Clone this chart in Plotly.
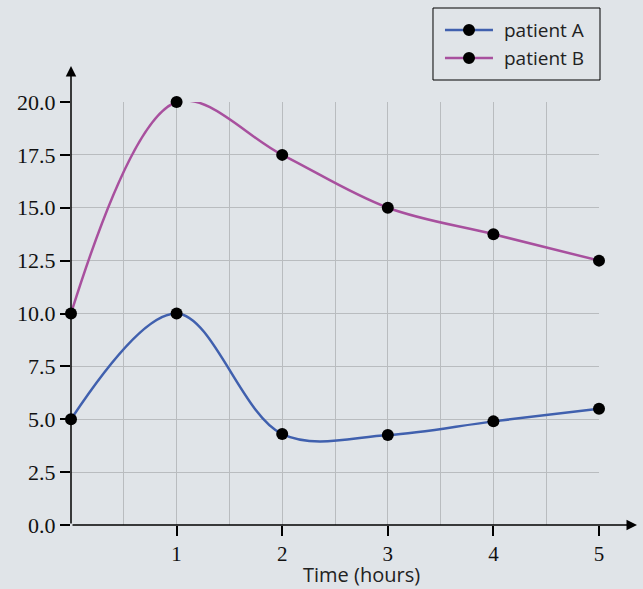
import plotly.graph_objects as go

# Time points (hours) and measured values for each patient
hours = [0, 1, 2, 3, 4, 5]
patient_a = [5.0, 10.0, 4.3, 4.25, 4.9, 5.5]
patient_b = [10.0, 20.0, 17.5, 15.0, 13.75, 12.5]

x_ticks = [1, 2, 3, 4, 5]
y_ticks = [0, 2.5, 5, 7.5, 10, 12.5, 15, 17.5, 20]
y_labels = [f"{v:.1f}" for v in y_ticks]

BG = "#e0e4e8"
GRID = "#b9bcbf"
SERIF = "Liberation Serif"
SANS = "Open Sans"

series = [
    ("patient A", patient_a, "#4060ae"),
    ("patient B", patient_b, "#a8509e"),
]

fig = go.Figure()

for name, vals, color in series:
    fig.add_trace(go.Scatter(
        x=hours, y=vals, name=name,
        mode="lines+markers",
        line=dict(color=color, width=2.5, shape="spline", smoothing=1),
        marker=dict(color="black", size=12),
        cliponaxis=False,
    ))

# Axis arrows
fig.add_annotation(x=5.36, y=0, ax=0, ay=0, xref="x", yref="y",
                   axref="x", ayref="y", showarrow=True, arrowhead=2,
                   arrowsize=1.4, arrowwidth=1.5, arrowcolor="black", text="")
fig.add_annotation(x=0, y=21.7, ax=0, ay=0, xref="x", yref="y",
                   axref="x", ayref="y", showarrow=True, arrowhead=2,
                   arrowsize=1.4, arrowwidth=1.5, arrowcolor="black", text="")

# x-axis title
fig.add_annotation(x=2.75, y=0, xref="x", yref="y", yshift=-64,
                   text="Time (hours)", showarrow=False, yanchor="bottom",
                   borderpad=0,
                   font=dict(family=SANS, size=20, color="#222"))

# Legend box drawn in paper coordinates (kept off the margin calculation)
fig.add_shape(type="rect", xref="paper", yref="paper",
              x0=0.6856, x1=1.0019, y0=1.052, y1=1.2222,
              line=dict(color="black", width=1), fillcolor=BG, layer="above")
legend_rows = [1.1702, 1.1040]
for (name, _, color), ly in zip(series, legend_rows):
    fig.add_shape(type="line", xref="paper", yref="paper",
                  x0=0.7083, x1=0.7992, y0=ly, y1=ly,
                  line=dict(color=color, width=2.5), layer="above")
    fig.add_shape(type="circle", xref="paper", yref="paper",
                  xsizemode="pixel", ysizemode="pixel",
                  xanchor=0.7538, yanchor=ly, x0=-6, x1=6, y0=-6, y1=6,
                  fillcolor="black", line=dict(color="black", width=0),
                  layer="above")
    fig.add_annotation(x=0.8163, y=ly, xref="paper", yref="paper",
                       text=name, showarrow=False, xanchor="left",
                       yanchor="middle",
                       font=dict(family=SANS, size=19, color="#222"))

fig.update_layout(
    width=643, height=589,
    margin=dict(l=71, r=44, t=102, b=64),
    paper_bgcolor=BG, plot_bgcolor=BG,
    showlegend=False,
    xaxis=dict(
        range=[0, 5], tickvals=x_ticks, ticktext=[str(v) for v in x_ticks],
        showgrid=True, gridcolor=GRID, gridwidth=1,
        minor=dict(dtick=0.5, tick0=0, showgrid=True, gridcolor=GRID, gridwidth=1),
        ticks="outside", ticklen=10, tickcolor="black", tickwidth=1.5,
        tickfont=dict(family=SERIF, size=21, color="#111"),
        showline=False, zeroline=False, automargin=False,
    ),
    yaxis=dict(
        range=[0, 20], tickvals=y_ticks, ticktext=y_labels,
        showgrid=True, gridcolor=GRID, gridwidth=1,
        ticks="outside", ticklen=10, tickcolor="black", tickwidth=1.5,
        tickfont=dict(family=SERIF, size=22, color="#111"),
        showline=False, zeroline=False, automargin=False,
    ),
)

fig.write_html("out.html")
